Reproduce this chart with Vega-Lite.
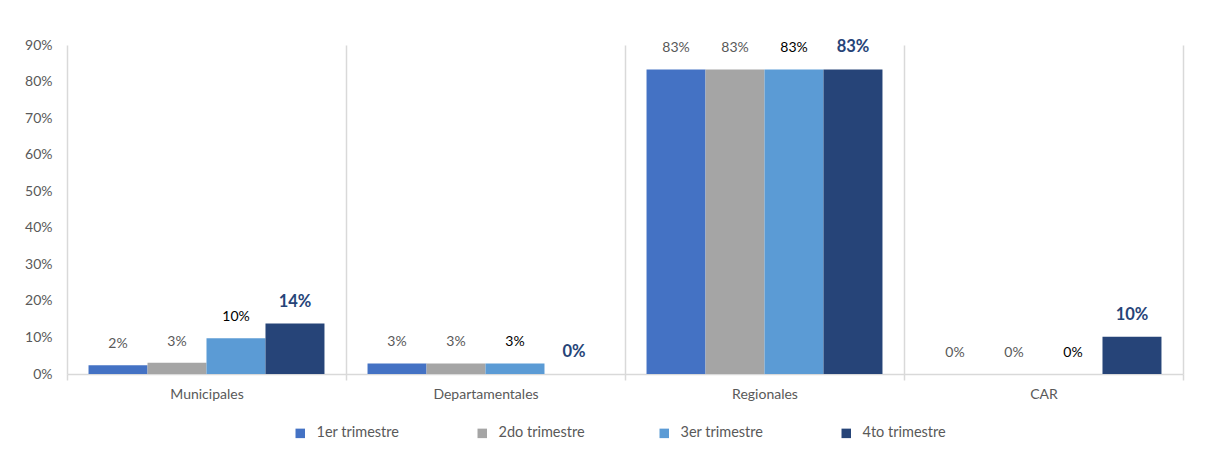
{
  "$schema": "https://vega.github.io/schema/vega-lite/v6.json",
  "autosize": {"type": "none"},
  "width": 1116,
  "height": 329,
  "padding": {"left": 67, "top": 45, "right": 22, "bottom": 81},
  "background": "white",
  "config": {
    "view": {"stroke": null},
    "font": "Lato",
    "axis": {"labelFont": "Lato", "labelColor": "#595959", "labelFontSize": 14}
  },
  "data": {
    "values": [
      {"nivel": "Municipales", "trimestre": "1er trimestre", "valor": 0.024},
      {"nivel": "Municipales", "trimestre": "2do trimestre", "valor": 0.031},
      {"nivel": "Municipales", "trimestre": "3er trimestre", "valor": 0.098},
      {"nivel": "Municipales", "trimestre": "4to trimestre", "valor": 0.138},
      {"nivel": "Departamentales", "trimestre": "1er trimestre", "valor": 0.029},
      {"nivel": "Departamentales", "trimestre": "2do trimestre", "valor": 0.029},
      {"nivel": "Departamentales", "trimestre": "3er trimestre", "valor": 0.029},
      {"nivel": "Departamentales", "trimestre": "4to trimestre", "valor": 0.0},
      {"nivel": "Regionales", "trimestre": "1er trimestre", "valor": 0.833},
      {"nivel": "Regionales", "trimestre": "2do trimestre", "valor": 0.833},
      {"nivel": "Regionales", "trimestre": "3er trimestre", "valor": 0.833},
      {"nivel": "Regionales", "trimestre": "4to trimestre", "valor": 0.833},
      {"nivel": "CAR", "trimestre": "1er trimestre", "valor": 0.0},
      {"nivel": "CAR", "trimestre": "2do trimestre", "valor": 0.0},
      {"nivel": "CAR", "trimestre": "3er trimestre", "valor": 0.0},
      {"nivel": "CAR", "trimestre": "4to trimestre", "valor": 0.102}
    ]
  },
  "encoding": {
    "x": {
      "field": "nivel", "type": "nominal",
      "sort": ["Municipales", "Departamentales", "Regionales", "CAR"],
      "scale": {"paddingInner": 0, "paddingOuter": 0},
      "axis": {
        "title": null, "labelAngle": 0, "bandPosition": 0,
        "grid": true, "gridColor": "#d9d9d9", "gridWidth": 1.5,
        "ticks": true, "tickColor": "#d9d9d9", "tickSize": 6, "tickWidth": 1.5, "tickBand": "extent",
        "domainColor": "#d9d9d9", "domainWidth": 1.5,
        "labelPadding": 7
      }
    },
    "xOffset": {
      "field": "trimestre", "type": "nominal",
      "sort": ["1er trimestre", "2do trimestre", "3er trimestre", "4to trimestre"],
      "scale": {"paddingInner": 0, "paddingOuter": 0.365}
    },
    "y": {
      "field": "valor", "type": "quantitative",
      "scale": {"domain": [0, 0.9]},
      "axis": {
        "title": null, "format": ".0%", "values": [0, 0.1, 0.2, 0.3, 0.4, 0.5, 0.6, 0.7, 0.8, 0.9],
        "grid": false, "domain": false, "ticks": false, "labelPadding": 15
      }
    }
  },
  "layer": [
    {
      "mark": {"type": "bar"},
      "encoding": {
        "color": {
          "field": "trimestre", "type": "nominal",
          "sort": ["1er trimestre", "2do trimestre", "3er trimestre", "4to trimestre"],
          "scale": {
            "domain": ["1er trimestre", "2do trimestre", "3er trimestre", "4to trimestre"],
            "range": ["#4472C4", "#A5A5A5", "#5B9BD5", "#264478"]
          },
          "legend": {
            "title": null, "orient": "none", "direction": "horizontal",
            "legendX": 226, "legendY": 381,
            "symbolType": "square", "symbolSize": 90, "symbolStrokeWidth": 0,
            "labelFont": "Lato", "labelFontSize": 14.5, "labelColor": "#595959",
            "columnPadding": 72, "gridAlign": "all", "labelOffset": 9
          }
        }
      }
    },
    {
      "transform": [{"filter": "datum.trimestre != '4to trimestre'"}],
      "mark": {"type": "text", "baseline": "middle", "dy": -21, "fontSize": 14, "font": "Lato"},
      "encoding": {
        "text": {"field": "valor", "type": "quantitative", "format": ".0%"},
        "color": {"condition": {"test": "datum.trimestre == '3er trimestre'", "value": "#000000"}, "value": "#595959"}
      }
    },
    {
      "transform": [{"filter": "datum.trimestre == '4to trimestre'"}],
      "mark": {"type": "text", "baseline": "middle", "dy": -22, "fontSize": 16.5, "fontWeight": "bold", "font": "Lato", "color": "#264478"},
      "encoding": {
        "text": {"field": "valor", "type": "quantitative", "format": ".0%"}
      }
    }
  ],
  "resolve": {"scale": {"color": "independent"}}
}
